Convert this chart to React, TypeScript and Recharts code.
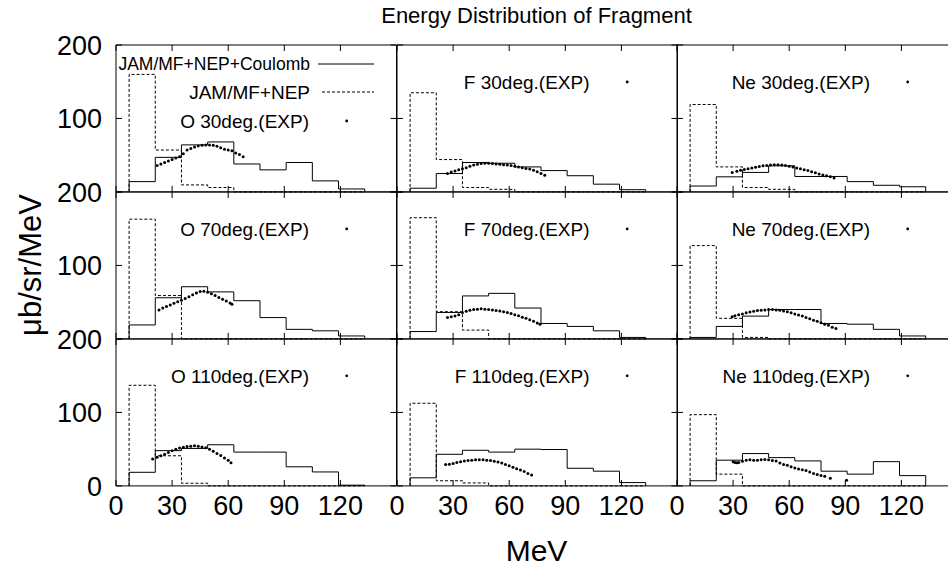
import { ComposedChart, Line, Scatter, XAxis, YAxis, ReferenceArea } from "recharts"

// histogram bins are 14 MeV wide
const binEdges = [7, 21, 35, 49, 63, 77, 91, 105, 119, 133]
const xTicks = [0, 30, 60, 90, 120]
const yTicks = [0, 100, 200]

// JAM/MF+NEP+Coulomb (solid) and JAM/MF+NEP (dashed), value per bin
const coulombO30 = [14, 47, 64, 68, 38, 30, 40, 15, 4]
const nepO30 = [160, 57, 9.5, 6, 0, 0, 0, 0, 0]
const coulombF30 = [5, 25, 40, 39, 34, 29, 22, 10.5, 3]
const nepF30 = [135, 44, 6, 3.5, 0, 0, 0, 0, 0]
const coulombNe30 = [8, 20.5, 26.5, 35.5, 21, 21, 14, 9, 7]
const nepNe30 = [119, 34, 6, 3.5, 0, 0, 0, 0, 0]
const coulombO70 = [19, 56, 71, 64, 52, 29, 13, 11, 4]
const nepO70 = [163, 59, 0, 0, 0, 0, 0, 0, 0]
const coulombF70 = [10, 36, 58.5, 62, 42, 21, 17, 11, 2]
const nepF70 = [165, 37, 12, 0, 0, 0, 0, 0, 0]
const coulombNe70 = [2, 17, 31, 40, 40, 21, 20, 13, 4]
const nepNe70 = [127, 28, 2, 0, 0, 0, 0, 0, 0]
const coulombO110 = [18.5, 48, 51, 56, 46, 46, 26, 19, 1]
const nepO110 = [137, 41, 3.6, 0, 0, 0, 0, 0, 0]
const coulombF110 = [11, 43, 48.5, 46, 50, 49.5, 24, 20, 4.5]
const nepF110 = [112.5, 7, 4, 0, 0, 0, 0, 0, 0]
const coulombNe110 = [7, 35, 44, 38.5, 34, 20, 16, 33, 14]
const nepNe110 = [97, 16, 0, 0, 0, 0, 0, 0, 0]

// experimental points [MeV, value]
const expO30 = [[22, 36], [24, 38], [26, 40], [28, 42], [30, 44], [32, 46], [34, 48], [36, 52], [38, 57], [40, 59], [42, 61], [44, 62.5], [46, 63.5], [48, 64], [50, 64], [52, 63.5], [54, 62], [56, 60], [58, 58], [60, 57], [62, 56], [64, 53], [66, 51], [68, 48]]
const expF30 = [[27, 25], [29, 27], [31, 28.5], [33, 30], [35, 31.5], [37, 33], [39, 35], [41, 36.5], [43, 37.5], [45, 38.5], [47, 39], [49, 39], [51, 38.5], [53, 38], [55, 37.5], [57, 37], [59, 36.5], [61, 36], [63, 35], [65, 34], [67, 33], [69, 32], [71, 31], [73, 29.5], [75, 27.5], [77, 25], [79, 22.5]]
const expNe30 = [[29.5, 26.5], [32, 28], [34, 29.5], [36, 30.5], [38, 31.5], [40, 32.5], [42, 33.5], [44, 34.5], [46, 35.5], [48, 36], [50, 36.5], [52, 37], [54, 37], [56, 36.5], [58, 36], [60, 35], [62, 34], [64, 32.5], [66, 31.5], [68, 30], [70, 29], [72, 27.5], [74, 26], [76, 24.5], [78, 23], [80, 22], [82, 20.5], [84, 19]]
const expO70 = [[23, 39.5], [25, 42], [27, 44], [29, 46], [31, 48.5], [33, 50.5], [35, 52.5], [37, 55], [39, 57.5], [41, 60], [43, 62.5], [45, 64.5], [47, 65], [49, 63.5], [51, 61.5], [53, 59], [55, 56.5], [57, 54], [59, 51.5], [61, 49], [62, 47]]
const expF70 = [[27, 29], [29, 30], [31, 31], [33, 33], [35, 36], [37, 37.5], [39, 39], [41, 40], [43, 40.5], [45, 41], [47, 40.5], [49, 40], [51, 39.5], [53, 38.5], [55, 38], [57, 37], [59, 36], [61, 34.5], [63, 33], [65, 31.5], [67, 29.5], [69, 28], [71, 26], [73, 24], [75, 21.5], [76.5, 20]]
const expNe70 = [[29.5, 30], [31, 31.5], [33, 33], [35, 34], [37, 35.5], [39, 36.5], [41, 37.5], [43, 38.5], [45, 39], [47, 39.5], [49, 40], [51, 40], [53, 39.5], [55, 39], [57, 38], [59, 37], [61, 35.5], [63, 34], [65, 32.5], [67, 31], [69, 29], [71, 27.5], [73, 25.5], [75, 24], [77, 22], [79, 20], [81, 18.5], [83, 16], [85, 14]]
const expO110 = [[19.6, 36.5], [22, 39], [24, 41], [26, 43], [28, 45.5], [30, 48], [32, 50], [34, 51.5], [36, 52.5], [38, 53.5], [40, 54], [42, 54.5], [44, 54], [46, 53], [48, 52], [50, 50], [52, 47], [54, 44], [56, 41.5], [58, 38], [60, 35], [61.5, 31.5]]
const expF110 = [[26, 29], [28, 29.5], [30, 30.5], [32, 32], [34, 33], [36, 34], [38, 34.5], [40, 35], [42, 35.5], [44, 35.5], [46, 35.5], [48, 35], [50, 34.5], [52, 33.5], [54, 32.5], [56, 31], [58, 29], [60, 27.5], [62, 25.5], [64, 23.5], [66, 21.5], [68, 19.5], [70, 17], [72, 15]]
const expNe110 = [[30, 33], [31, 32], [32, 31.5], [33, 32], [35, 33.5], [37, 35], [39, 35.5], [41, 35], [43, 35], [45, 35.5], [47, 36], [49, 35.5], [51, 34.5], [53, 34], [55, 31], [57, 29], [59, 28], [61, 26], [63, 24.5], [65, 23], [67, 22], [69, 21], [71, 19], [73, 17], [75, 15.5], [77, 14], [79, 13], [82, 10.5], [90.7, 7.7]]

const panels = [
  { label: "O 30deg.(EXP)", coulomb: coulombO30, nep: nepO30, exp: expO30 },
  { label: "F 30deg.(EXP)", coulomb: coulombF30, nep: nepF30, exp: expF30 },
  { label: "Ne 30deg.(EXP)", coulomb: coulombNe30, nep: nepNe30, exp: expNe30 },
  { label: "O 70deg.(EXP)", coulomb: coulombO70, nep: nepO70, exp: expO70 },
  { label: "F 70deg.(EXP)", coulomb: coulombF70, nep: nepF70, exp: expF70 },
  { label: "Ne 70deg.(EXP)", coulomb: coulombNe70, nep: nepNe70, exp: expNe70 },
  { label: "O 110deg.(EXP)", coulomb: coulombO110, nep: nepO110, exp: expO110 },
  { label: "F 110deg.(EXP)", coulomb: coulombF110, nep: nepF110, exp: expF110 },
  { label: "Ne 110deg.(EXP)", coulomb: coulombNe110, nep: nepNe110, exp: expNe110 },
]

const FONT = "'Liberation Sans', Arial, Helvetica, sans-serif"
const PW = 280.5
const PH = 146.9
const YW = 70
const XH = 40
const MT = 20
const MR = 5
const colLeft = [116, 396.5, 677]
const rowTop = [45, 45 + PH, 45 + 2 * PH]

const steps = (vals: number[]) => [
  { x: binEdges[0], y: 0 },
  ...vals.map((v, i) => ({ x: binEdges[i], y: v })),
  { x: binEdges[binEdges.length - 1], y: 0 },
]

function XTick(props: any) {
  const { x, payload, showLabel } = props
  const bottom = MT + PH
  return (
    <g>
      <line x1={x} x2={x} y1={bottom} y2={bottom - 6} stroke="#000" />
      <line x1={x} x2={x} y1={MT} y2={MT + 6} stroke="#000" />
      {showLabel && (
        <text x={x} y={bottom + 29} textAnchor="middle" fontSize={27} fill="#000" fontFamily={FONT}>
          {payload.value}
        </text>
      )}
    </g>
  )
}

function YTick(props: any) {
  const { y, payload, showLabel, bottomRow } = props
  const right = YW + PW
  // the 0 of the upper rows sits under the 200 of the row below
  const hideZero = payload.value === 0 && !bottomRow
  return (
    <g>
      <line x1={YW} x2={YW + 6} y1={y} y2={y} stroke="#000" />
      <line x1={right} x2={right - 6} y1={y} y2={y} stroke="#000" />
      {showLabel && !hideZero && (
        <text x={YW - 14} y={y + 9.7} textAnchor="end" fontSize={27} fill="#000" fontFamily={FONT}>
          {payload.value}
        </text>
      )}
    </g>
  )
}

function Panel({ idx }: { idx: number }) {
  const p = panels[idx]
  const r = Math.floor(idx / 3)
  const c = idx % 3
  const expData = p.exp.map(([x, y]) => ({ x, y }))
  return (
    <div style={{ position: "absolute", left: colLeft[c] - YW, top: rowTop[r] - MT }}>
      <ComposedChart width={YW + PW + MR} height={MT + PH + XH} margin={{ top: MT, right: MR, left: 0, bottom: 0 }}>
        <XAxis
          type="number"
          dataKey="x"
          domain={[0, 150]}
          ticks={xTicks}
          interval={0}
          height={XH}
          axisLine={false}
          tickLine={false}
          tickSize={0}
          tick={(t: any) => <XTick {...t} showLabel={r === 2} />}
        />
        <YAxis
          type="number"
          dataKey="y"
          domain={[0, 200]}
          ticks={yTicks}
          interval={0}
          width={YW}
          axisLine={false}
          tickLine={false}
          tickSize={0}
          tick={(t: any) => <YTick {...t} showLabel={c === 0} bottomRow={r === 2} />}
        />
        <ReferenceArea x1={0} x2={150} y1={0} y2={200} fill="none" fillOpacity={0} stroke="#000" strokeWidth={1} />
        <Line data={steps(p.coulomb)} dataKey="y" type="stepAfter" stroke="#000" strokeWidth={1} dot={false} isAnimationActive={false} />
        <Line data={steps(p.nep)} dataKey="y" type="stepAfter" stroke="#000" strokeWidth={1} strokeDasharray="3 2" dot={false} isAnimationActive={false} />
        <Scatter
          data={expData}
          dataKey="y"
          fill="#000"
          isAnimationActive={false}
          shape={(s: any) => <circle cx={s.cx} cy={s.cy} r={1.5} fill="#000" />}
        />
      </ComposedChart>
    </div>
  )
}

export default function App() {
  const labelFs = 19
  return (
    <div style={{ position: "absolute", left: 0, top: 0, width: 948, height: 571, overflow: "hidden", background: "#fff", fontFamily: FONT }}>
      {panels.map((_, i) => (
        <Panel key={i} idx={i} />
      ))}
      <svg width={948} height={571} style={{ position: "absolute", left: 0, top: 0, pointerEvents: "none" }} fontFamily={FONT}>
        <text x={536.5} y={23} textAnchor="middle" fontSize={22}>Energy Distribution of Fragment</text>
        <text x={536.5} y={561} textAnchor="middle" fontSize={30}>MeV</text>
        <text transform="translate(41,265) rotate(-90)" textAnchor="middle" fontSize={31}>μb/sr/MeV</text>

        {/* key of the first panel */}
        <text x={310} y={64 + 6.3} textAnchor="end" fontSize={17.5}>JAM/MF+NEP+Coulomb</text>
        <line x1={318} x2={374} y1={64} y2={64} stroke="#000" />
        <text x={310} y={92 + 6.8} textAnchor="end" fontSize={labelFs}>JAM/MF+NEP</text>
        <line x1={322} x2={374} y1={92} y2={92} stroke="#000" strokeDasharray="3 2" />

        {panels.map((p, i) => {
          const r = Math.floor(i / 3)
          const c = i % 3
          const cy = i === 0 ? 121 : rowTop[r] + 37
          return (
            <g key={i}>
              <text x={colLeft[c] + 193} y={cy + 6.8} textAnchor="end" fontSize={labelFs}>{p.label}</text>
              <circle cx={colLeft[c] + 230.7} cy={cy} r={1.4} fill="#000" />
            </g>
          )
        })}
      </svg>
    </div>
  )
}
